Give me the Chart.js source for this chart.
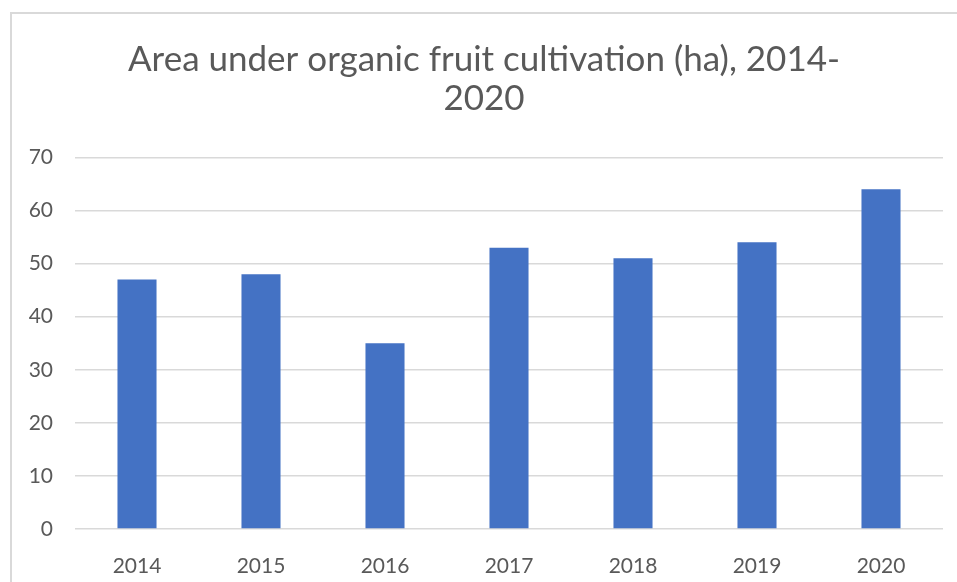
<!DOCTYPE html>
<html>
<head>
<meta charset="utf-8">
<script src="https://cdn.jsdelivr.net/npm/chart.js@4.4.1/dist/chart.umd.min.js"></script>
<style>
    html, body { margin: 0; padding: 0; background: #fff; overflow: hidden; }
    #wrap { position: relative; width: 957px; height: 582px; }
    #frame {
        position: absolute; left: 10px; top: 12px;
        width: 1000px; height: 1000px;
        border: 2px solid #d9d9d9; pointer-events: none;
    }
</style>
</head>
<body>
<div id="wrap">
    <canvas id="chart"></canvas>
    <div id="frame"></div>
</div>
<script>
const years = ["2014", "2015", "2016", "2017", "2018", "2019", "2020"];
const area = [47, 48, 35, 53, 51, 54, 64];
const titleLines = ["Area under organic fruit cultivation (ha), 2014-", "2020"];

const gray = "#595959";

const chart = new Chart("chart", {
    type: "bar",
    data: {
        labels: years,
        datasets: [{
            label: "Area (ha)",
            data: area,
            backgroundColor: "#4472c4",
            borderWidth: 0,
            barPercentage: 0.315,
            categoryPercentage: 1
        }]
    },
    options: {
        responsive: true,
        maintainAspectRatio: false,
        animation: false,
        layout: {
            padding: { left: 25, right: 14, top: 0, bottom: 0 }
        },
        scales: {
            x: {
                grid: { display: false },
                border: { display: false },
                ticks: {
                    color: gray,
                    padding: 17,
                    font: { family: "Lato", size: 21 }
                },
                afterFit: (scale) => { scale.height = 53; }
            },
            y: {
                min: 0,
                max: 70,
                ticks: {
                    stepSize: 10,
                    color: gray,
                    padding: 22,
                    font: { family: "Lato", size: 21 }
                },
                grid: {
                    color: "#d9d9d9",
                    lineWidth: 1.5,
                    drawTicks: false
                },
                border: { display: false },
                afterFit: (scale) => { scale.width = 50; }
            }
        },
        plugins: {
            legend: { display: false },
            tooltip: { enabled: false },
            title: {
                display: true,
                text: titleLines,
                color: gray,
                font: { family: "Lato", size: 35, weight: "normal", lineHeight: 1.12 },
                padding: { top: 40, bottom: 39 }
            }
        }
    }
})
</script>
</body>
</html>
